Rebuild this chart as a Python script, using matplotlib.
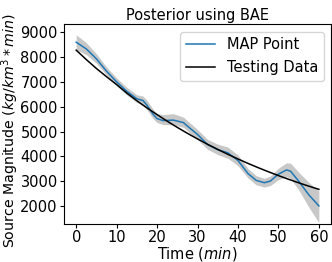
import matplotlib
matplotlib.use("Agg")
import matplotlib.pyplot as plt

# Time grid (minutes)
t_true = [0, 2.5, 5, 7.5, 10, 12.5, 15, 17.5, 20, 22.5, 25, 27.5, 30, 32.5, 35,
          37.5, 40, 42.5, 45, 47.5, 50, 52.5, 55, 57.5, 60]
testing = [8280, 7900, 7540, 7210, 6890, 6550, 6240, 5950, 5680, 5415, 5165, 4927,
           4700, 4483, 4277, 4080, 3892, 3712, 3541, 3378, 3222, 3074, 2932, 2797, 2668]

t_map = [0, 2.5, 5, 7.5, 10, 12.5, 15, 16.5, 17.5, 19, 20, 21.5, 24, 26.5, 28,
         30, 32.5, 35, 37.5, 40, 42.5, 44.5, 46.5, 48, 50, 52, 53, 55, 57.5, 60]
map_point = [8600, 8330, 7930, 7430, 7000, 6620, 6320, 6250, 6060, 5700, 5520, 5440,
             5460, 5360, 5150, 4880, 4470, 4270, 4140, 3830, 3300, 3030, 2935, 3000,
             3280, 3450, 3400, 3000, 2450, 2000]
band_low = [8300, 8100, 7750, 7280, 6850, 6470, 6170, 6080, 5880, 5520, 5360, 5280,
            5270, 5170, 4950, 4680, 4280, 4070, 3920, 3620, 3120, 2850, 2760, 2820,
            3060, 3180, 3100, 2650, 1950, 1320]
band_high = [8900, 8580, 8130, 7600, 7160, 6780, 6480, 6430, 6260, 5900, 5720, 5680,
             5720, 5580, 5360, 5080, 4680, 4490, 4370, 4050, 3500, 3220, 3110, 3200,
             3520, 3740, 3720, 3360, 2950, 2600]

plt.rcParams['font.family'] = ['DejaVu Sans']
fs = 10.5
fig = plt.figure(figsize=(3.32, 2.62), dpi=100)
ax = fig.add_axes([0.193, 0.145, 0.804, 0.762])

ax.fill_between(t_map, band_low, band_high, color='#c8c8c8', lw=0)
ax.plot(t_map, map_point, color='#1f77b4', lw=1.1, label='MAP Point')
ax.plot(t_true, testing, color='black', lw=1.1, label='Testing Data')

ax.set_xlim(-3, 63)
ax.set_ylim(1270, 9320)
ax.set_xticks([0, 10, 20, 30, 40, 50, 60])
ax.set_yticks([2000, 3000, 4000, 5000, 6000, 7000, 8000, 9000])
ax.tick_params(labelsize=fs, length=3, pad=1.5)
ax.set_title('Posterior using BAE', fontsize=fs, pad=3)
ax.set_xlabel('Time ($min$)', fontsize=fs, labelpad=0)
ax.set_ylabel('Source Magnitude ($kg/km^3 * min$)', fontsize=10.2)
ax.yaxis.set_label_coords(-0.162, 0.47)
ax.legend(loc='upper right', fontsize=fs)

fig.savefig('out.png', dpi=100)
